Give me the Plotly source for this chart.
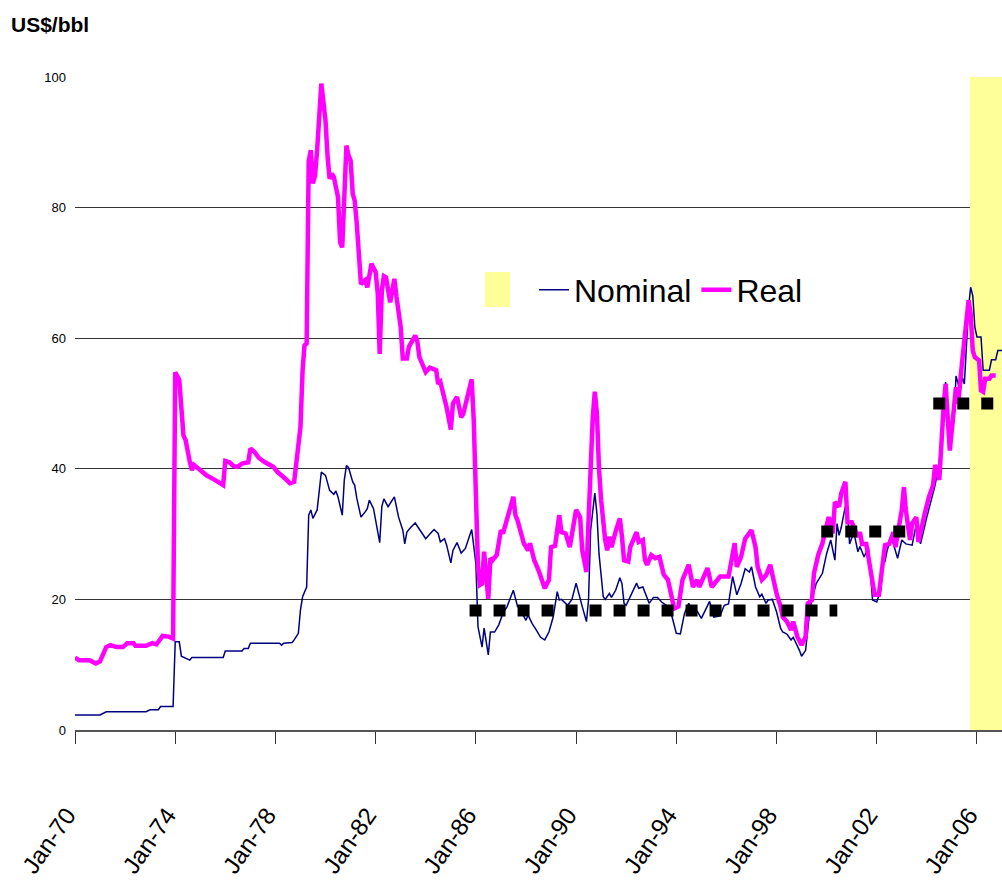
import plotly.graph_objects as go

# nominal crude price, US$/bbl
nominal_dates = [
    '1970-01', '1971-01', '1971-04', '1972-11', '1973-01', '1973-05', '1973-06', '1973-12',
    '1974-01', '1974-03', '1974-04', '1974-06', '1974-08', '1974-09', '1975-12', '1976-01',
    '1976-09', '1976-10', '1976-12', '1977-01', '1978-03', '1978-04', '1978-05', '1978-09',
    '1978-10', '1978-12', '1979-01', '1979-02', '1979-04', '1979-05', '1979-06', '1979-07',
    '1979-09', '1979-11', '1980-01', '1980-03', '1980-05', '1980-06', '1980-07', '1980-09',
    '1980-10', '1980-11', '1980-12', '1981-02', '1981-03', '1981-04', '1981-06', '1981-08',
    '1981-09', '1981-10', '1981-12', '1982-03', '1982-04', '1982-05', '1982-07', '1982-10',
    '1982-12', '1983-02', '1983-03', '1983-04', '1983-06', '1983-08', '1983-10', '1984-01',
    '1984-03', '1984-05', '1984-07', '1984-08', '1984-10', '1984-11', '1985-01', '1985-02',
    '1985-04', '1985-06', '1985-08', '1985-10', '1985-11', '1986-01', '1986-02', '1986-04',
    '1986-05', '1986-07', '1986-08', '1986-10', '1986-12', '1987-02', '1987-04', '1987-07',
    '1987-08', '1987-09', '1987-10', '1988-01', '1988-02', '1988-04', '1988-06', '1988-08',
    '1988-10', '1988-12', '1989-02', '1989-04', '1989-05', '1989-06', '1989-09', '1989-11',
    '1990-01', '1990-03', '1990-04', '1990-06', '1990-07', '1990-08', '1990-10', '1990-11',
    '1990-12', '1991-02', '1991-03', '1991-05', '1991-06', '1991-08', '1991-10', '1991-11',
    '1991-12', '1992-01', '1992-03', '1992-06', '1992-07', '1992-09', '1992-12', '1993-02',
    '1993-04', '1993-06', '1993-09', '1993-11', '1994-01', '1994-03', '1994-05', '1994-07',
    '1994-09', '1994-11', '1995-01', '1995-03', '1995-05', '1995-07', '1995-10', '1995-12',
    '1996-02', '1996-04', '1996-06', '1996-08', '1996-10', '1996-12', '1997-01', '1997-03',
    '1997-05', '1997-06', '1997-08', '1997-09', '1997-11', '1998-01', '1998-03', '1998-04',
    '1998-06', '1998-08', '1998-09', '1998-12', '1999-01', '1999-03', '1999-05', '1999-06',
    '1999-08', '1999-11', '2000-01', '2000-03', '2000-05', '2000-06', '2000-07', '2000-08',
    '2000-10', '2000-11', '2000-12', '2001-02', '2001-04', '2001-05', '2001-07', '2001-09',
    '2001-11', '2002-01', '2002-03', '2002-04', '2002-05', '2002-06', '2002-08', '2002-11',
    '2003-01', '2003-03', '2003-06', '2003-08', '2003-10', '2004-01', '2004-03', '2004-05',
    '2004-07', '2004-08', '2004-10', '2004-11', '2004-12', '2005-02', '2005-03', '2005-05',
    '2005-06', '2005-07', '2005-08', '2005-09', '2005-10', '2005-11', '2005-12', '2006-01',
    '2006-03', '2006-04', '2006-07', '2006-08', '2006-10', '2006-11', '2007-01',
]
nominal_usd = [
    2.3, 2.3, 2.8, 2.8, 3.1, 3.1, 3.6, 3.6,
    13.5, 13.5, 11.3, 11.0, 10.7, 11.1, 11.1, 12.1,
    12.1, 12.5, 12.5, 13.3, 13.3, 13.0, 13.3, 13.4,
    13.8, 14.8, 18.4, 20.4, 21.9, 32.9, 33.7, 32.4,
    33.7, 39.5, 39.0, 36.7, 36.1, 36.6, 35.7, 32.9,
    38.3, 40.5, 40.2, 38.0, 37.5, 35.5, 32.6, 33.4,
    33.9, 35.2, 33.9, 28.7, 34.2, 35.4, 34.2, 35.7,
    32.6, 30.6, 28.5, 30.3, 31.1, 31.7, 30.7, 29.3,
    30.0, 30.7, 30.1, 28.8, 29.3, 28.3, 25.6, 27.5,
    28.7, 27.1, 27.8, 29.8, 30.7, 25.5, 15.8, 12.7,
    15.6, 11.5, 15.0, 15.0, 16.1, 17.9, 18.9, 21.4,
    19.9, 18.9, 18.6, 16.8, 17.6, 16.3, 15.3, 14.2,
    13.8, 15.0, 17.3, 21.2, 19.9, 20.0, 19.1, 20.0,
    22.5, 19.9, 18.9, 16.6, 19.9, 30.6, 36.3, 33.1,
    27.0, 20.4, 20.0, 20.9, 20.3, 21.4, 23.3, 22.4,
    19.4, 19.1, 20.4, 22.5, 21.7, 21.9, 19.4, 20.3,
    20.3, 19.6, 18.9, 17.3, 14.8, 14.7, 17.9, 19.4,
    17.9, 18.2, 17.1, 18.4, 19.7, 17.3, 17.5, 19.1,
    19.3, 23.5, 20.7, 22.4, 24.7, 24.2, 25.0, 21.9,
    20.4, 20.8, 19.4, 19.9, 20.0, 18.1, 15.6, 15.0,
    14.7, 13.8, 14.2, 12.2, 11.3, 12.2, 18.4, 19.9,
    22.4, 24.0, 27.0, 29.1, 26.0, 31.6, 29.8, 31.0,
    34.3, 33.7, 28.5, 30.3, 27.3, 28.1, 26.5, 28.1,
    19.9, 19.6, 21.4, 25.5, 25.8, 27.5, 29.6, 26.3,
    29.1, 28.5, 28.3, 31.6, 28.5, 32.6, 35.2, 37.5,
    41.1, 45.4, 53.3, 49.0, 43.5, 47.5, 54.2, 52.0,
    54.0, 53.0, 58.1, 64.8, 67.8, 66.5, 61.7, 60.2,
    60.2, 55.1, 55.1, 56.7, 56.7, 58.1, 58.1,
]

# real (inflation adjusted) price, US$/bbl
real_dates = [
    '1970-01', '1970-03', '1970-08', '1970-11', '1971-01', '1971-02', '1971-04', '1971-06',
    '1971-09', '1971-12', '1972-02', '1972-05', '1972-06', '1972-11', '1973-02', '1973-04',
    '1973-06', '1973-07', '1973-10', '1973-12', '1974-01', '1974-02', '1974-03', '1974-05',
    '1974-06', '1974-08', '1974-09', '1974-10', '1975-01', '1975-04', '1975-08', '1975-12',
    '1976-01', '1976-03', '1976-05', '1976-07', '1976-09', '1976-12', '1977-01', '1977-03',
    '1977-05', '1977-08', '1977-12', '1978-02', '1978-05', '1978-08', '1978-10', '1979-01',
    '1979-02', '1979-03', '1979-04', '1979-05', '1979-06', '1979-07', '1979-08', '1979-09',
    '1979-11', '1979-12', '1980-01', '1980-02', '1980-03', '1980-04', '1980-05', '1980-07',
    '1980-08', '1980-09', '1980-10', '1980-11', '1980-12', '1981-01', '1981-02', '1981-03',
    '1981-04', '1981-06', '1981-07', '1981-08', '1981-09', '1981-11', '1982-01', '1982-02',
    '1982-03', '1982-04', '1982-05', '1982-06', '1982-08', '1982-10', '1982-11', '1983-01',
    '1983-02', '1983-04', '1983-05', '1983-07', '1983-08', '1983-09', '1983-10', '1984-01',
    '1984-03', '1984-06', '1984-07', '1984-08', '1984-10', '1984-11', '1985-01', '1985-02',
    '1985-04', '1985-06', '1985-07', '1985-09', '1985-11', '1985-12', '1986-01', '1986-02',
    '1986-03', '1986-04', '1986-05', '1986-07', '1986-08', '1986-09', '1986-11', '1987-01',
    '1987-02', '1987-03', '1987-04', '1987-07', '1987-08', '1987-09', '1987-12', '1988-02',
    '1988-03', '1988-05', '1988-07', '1988-10', '1988-12', '1989-01', '1989-03', '1989-05',
    '1989-06', '1989-08', '1989-10', '1989-11', '1990-01', '1990-03', '1990-04', '1990-06',
    '1990-08', '1990-09', '1990-10', '1990-11', '1990-12', '1991-01', '1991-03', '1991-04',
    '1991-05', '1991-06', '1991-08', '1991-10', '1991-11', '1991-12', '1992-02', '1992-03',
    '1992-06', '1992-07', '1992-09', '1992-10', '1992-11', '1993-01', '1993-03', '1993-05',
    '1993-07', '1993-09', '1993-12', '1994-02', '1994-04', '1994-07', '1994-09', '1994-11',
    '1994-12', '1995-04', '1995-06', '1995-08', '1995-10', '1996-02', '1996-05', '1996-06',
    '1996-08', '1996-10', '1997-01', '1997-03', '1997-04', '1997-06', '1997-08', '1997-10',
    '1998-01', '1998-03', '1998-04', '1998-06', '1998-08', '1998-09', '1998-11', '1999-01',
    '1999-03', '1999-04', '1999-06', '1999-07', '1999-09', '1999-11', '2000-02', '2000-04',
    '2000-05', '2000-07', '2000-08', '2000-10', '2000-11', '2001-01', '2001-04', '2001-05',
    '2001-06', '2001-08', '2001-10', '2001-12', '2002-02', '2002-04', '2002-05', '2002-07',
    '2002-09', '2002-10', '2003-01', '2003-02', '2003-03', '2003-05', '2003-06', '2003-08',
    '2003-09', '2003-12', '2004-02', '2004-04', '2004-05', '2004-07', '2004-08', '2004-09',
    '2004-10', '2004-11', '2004-12', '2005-03', '2005-04', '2005-06', '2005-07', '2005-08',
    '2005-09', '2005-10', '2005-11', '2005-12', '2006-02', '2006-03', '2006-04', '2006-05',
    '2006-07', '2006-08', '2006-10', '2007-01',
]
real_usd = [
    11.1, 10.7, 10.7, 10.2, 10.5, 11.2, 12.7, 13.0,
    12.7, 12.7, 13.3, 13.3, 12.9, 12.9, 13.3, 13.1,
    14.0, 14.4, 14.3, 14.0, 54.8, 54.1, 53.6, 45.1,
    44.4, 41.1, 39.8, 40.6, 39.8, 39.0, 38.3, 37.5,
    41.2, 41.0, 40.4, 40.3, 40.8, 41.0, 43.1, 42.6,
    41.7, 41.0, 40.3, 39.5, 38.7, 37.8, 38.0, 46.4,
    55.1, 58.9, 59.2, 87.1, 88.8, 83.7, 84.9, 88.8,
    99.0, 96.6, 93.3, 87.7, 84.4, 85.2, 84.7, 81.6,
    74.7, 73.9, 84.2, 89.5, 88.0, 87.2, 82.1, 81.1,
    77.5, 68.3, 68.6, 68.9, 67.8, 71.4, 70.1, 66.8,
    57.6, 67.3, 69.5, 69.3, 65.5, 69.1, 66.3, 61.7,
    56.9, 56.9, 58.7, 59.9, 60.4, 59.5, 57.1, 54.8,
    55.5, 55.1, 53.0, 53.3, 51.0, 49.4, 46.0, 50.0,
    51.0, 47.9, 48.4, 51.0, 53.7, 47.4, 36.0, 25.0,
    22.2, 22.4, 27.3, 20.1, 26.3, 26.0, 26.8, 30.6,
    30.1, 31.1, 32.1, 35.7, 32.9, 32.1, 28.6, 27.5,
    28.6, 26.0, 24.5, 21.7, 23.0, 28.0, 28.2, 32.9,
    30.3, 30.1, 28.0, 30.3, 33.7, 32.6, 27.5, 24.2,
    40.3, 47.9, 51.8, 48.4, 40.0, 35.2, 29.1, 27.5,
    29.6, 28.0, 30.4, 32.4, 29.6, 26.0, 25.8, 28.0,
    30.3, 28.8, 29.1, 26.0, 25.3, 26.8, 26.3, 26.5,
    23.8, 23.0, 18.6, 18.9, 23.0, 25.3, 21.9, 23.0,
    21.9, 24.8, 21.9, 22.7, 23.5, 23.5, 28.6, 25.0,
    26.5, 29.3, 30.6, 28.0, 25.0, 23.0, 23.7, 25.3,
    20.9, 18.9, 17.3, 16.6, 15.3, 16.6, 14.3, 13.0,
    14.3, 19.4, 19.9, 24.0, 26.8, 28.6, 32.6, 30.1,
    34.9, 34.2, 36.2, 38.0, 31.8, 31.8, 29.6, 30.3,
    28.5, 28.5, 24.0, 20.7, 20.7, 25.5, 28.3, 28.5,
    30.3, 28.0, 33.7, 37.2, 33.7, 29.1, 31.6, 32.6,
    28.8, 33.1, 35.7, 37.5, 40.6, 38.3, 45.4, 49.4,
    53.0, 48.4, 42.8, 52.5, 50.0, 56.6, 59.2, 62.0,
    65.8, 63.8, 58.1, 57.1, 56.6, 52.0, 51.8, 53.8,
    53.8, 54.3, 54.3,
]

# benchmark price bands (black dotted lines)
bench_level = [18.3, 30.4, 50.0]
bench_start = ['1985-10-01', '1999-10-15', '2004-04-04']
bench_end = ['2000-06-05', '2003-04-20', '2007-01-01']

# shaded (forecast) period
shade_start = '2005-09-20'
shade_end = '2007-01-01'

FONT = 'Liberation Sans, Arial, sans-serif'

W, H = 1002, 883
L, T, B = 75, 77, 153
PW, PH = W - L, H - T - B

fig = go.Figure()

fig.add_trace(go.Scatter(
    x=nominal_dates, y=nominal_usd, name='Nominal', mode='lines',
    line=dict(color='#000080', width=1.5),
))
fig.add_trace(go.Scatter(
    x=real_dates, y=real_usd, name='Real', mode='lines',
    line=dict(color='#FF00FF', width=4.5),
))
for lvl, x0, x1 in zip(bench_level, bench_start, bench_end):
    fig.add_trace(go.Scatter(
        x=[x0, x1], y=[lvl, lvl], mode='lines', showlegend=False,
        line=dict(color='black', width=12, dash='dot'),
        hoverinfo='skip',
    ))

fig.add_shape(
    type='rect', xref='x', yref='y', x0=shade_start, x1=shade_end, y0=0, y1=100,
    fillcolor='#FFFF99', line_width=0, layer='between',
)
# swatch for the shaded period in the legend row
fig.add_shape(
    type='rect', xref='paper', yref='paper',
    x0=(485 - L) / PW, x1=(510 - L) / PW,
    y0=(H - B - 307) / PH, y1=(H - B - 272) / PH,
    fillcolor='#FFFF99', line_width=0,
)

fig.update_layout(
    width=W, height=H,
    margin=dict(l=L, r=0, t=T, b=B, autoexpand=False),
    plot_bgcolor='white', paper_bgcolor='white',
    font=dict(family=FONT, color='black'),
    title=dict(
        text='<b>US$/bbl</b>', font=dict(size=21, family=FONT),
        x=11 / W, xanchor='left', y=1 - 25 / H, yanchor='middle',
    ),
    legend=dict(
        orientation='h', x=(534 - L) / PW, xanchor='left',
        y=(H - B - 290) / PH, yanchor='middle',
        font=dict(size=32, family=FONT), bgcolor='rgba(0,0,0,0)',
        itemwidth=30,
    ),
    showlegend=True,
)

fig.update_xaxes(
    type='date', range=['1970-01-01', '2007-01-01'],
    tick0='1970-01-01', dtick='M48', tickformat='%b-%y',
    tickangle=-55, tickfont=dict(size=24, family=FONT),
    ticks='outside', ticklen=12, tickcolor='#333', tickwidth=1,
    ticklabelstandoff=48, ticklabelshift=-8,
    showline=True, linecolor='#555', linewidth=1.5,
    showgrid=False, zeroline=False, automargin=False,
)
fig.update_yaxes(
    range=[0, 100], dtick=20,
    showgrid=True, gridcolor='#333', gridwidth=1,
    zeroline=False, showline=False, ticks='',
    tickfont=dict(size=13, family=FONT), ticklabelstandoff=8,
    automargin=False,
)

# the page body has a default 8px margin; drop it so the figure sits at the window corner
fig.write_html(
    'out.html',
    config={'displayModeBar': False},
    post_script="document.body.style.margin = '0';",
)
